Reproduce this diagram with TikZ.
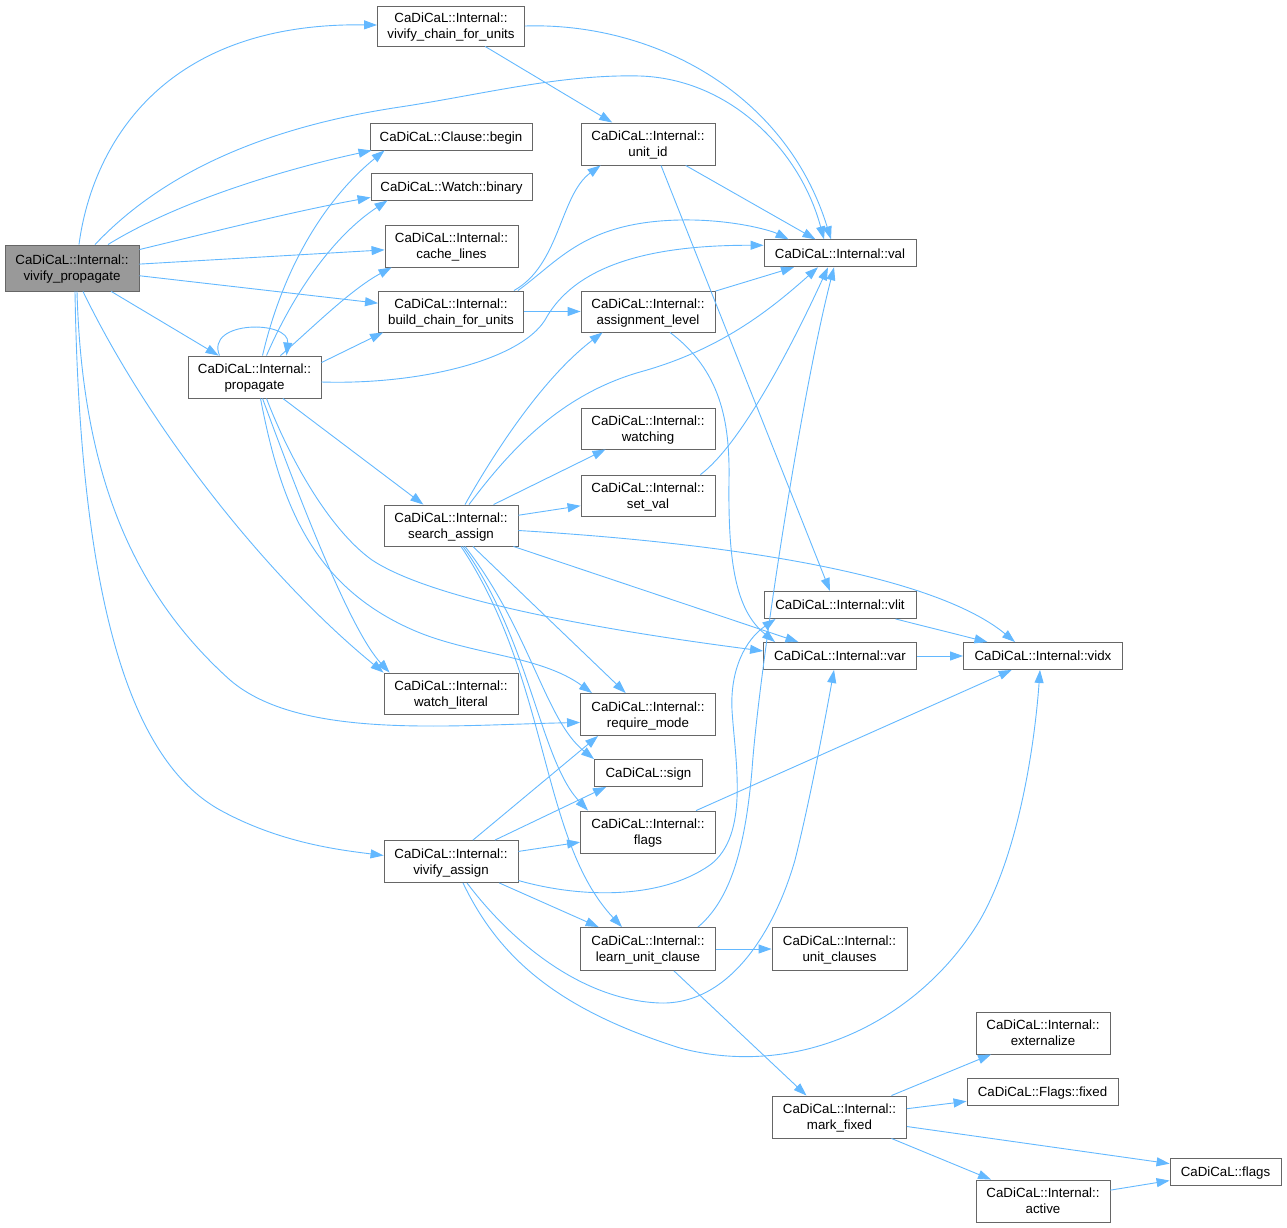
\documentclass[tikz,border=0pt]{standalone}
\usepackage{fontspec}
\setmainfont{Liberation Sans}
\usetikzlibrary{arrows.meta,calc}
\definecolor{edgeblue}{HTML}{63B8FF}
\definecolor{boxgray}{HTML}{666666}
\definecolor{rootfill}{HTML}{999999}
\begin{document}
\begin{tikzpicture}[x=1pt,y=-1pt,
  box/.style={draw=boxgray, fill=white, line width=0.9pt, inner sep=0pt, align=center,
    font=\fontsize{13.3}{16}\selectfont, minimum height=42pt, text depth=-4pt},
  one/.style={minimum height=27pt, text depth=0pt},
  e/.style={draw=edgeblue, line width=0.9pt, -{Triangle[length=13pt,width=9pt]}}]
\useasboundingbox (0,0) rectangle (1287,1228);
% nodes
\node[box, fill=rootfill, minimum width=134pt, minimum height=46pt] (vp) at (72,268) {CaDiCaL::Internal::\\vivify\_propagate};
\node[box, minimum width=147pt, minimum height=40pt] (vcu) at (451,26) {CaDiCaL::Internal::\\vivify\_chain\_for\_units};
\node[box, one, minimum width=162pt] (cbeg) at (451,136.5) {CaDiCaL::Clause::begin};
\node[box, one, minimum width=161pt] (wbin) at (451.5,186.5) {CaDiCaL::Watch::binary};
\node[box, minimum width=133pt] (cache) at (451.5,246) {CaDiCaL::Internal::\\cache\_lines};
\node[box, minimum width=145pt, minimum height=41pt] (bcu) at (451,311.5) {CaDiCaL::Internal::\\build\_chain\_for\_units};
\node[box, minimum width=133pt] (prop) at (254.5,377) {CaDiCaL::Internal::\\propagate};
\node[box, minimum width=134pt, minimum height=41pt] (sa) at (451,525.5) {CaDiCaL::Internal::\\search\_assign};
\node[box, minimum width=134pt, minimum height=41pt] (wl) at (451,693.5) {CaDiCaL::Internal::\\watch\_literal};
\node[box, minimum width=134pt] (va) at (451,861.5) {CaDiCaL::Internal::\\vivify\_assign};
\node[box, minimum width=134pt] (uid) at (648,144) {CaDiCaL::Internal::\\unit\_id};
\node[box, one, minimum width=152pt] (val) at (840,253.3) {CaDiCaL::Internal::val};
\node[box, minimum width=134pt, minimum height=41pt] (al) at (648,311.5) {CaDiCaL::Internal::\\assignment\_level};
\node[box, minimum width=134pt, minimum height=41pt] (watching) at (648,428.5) {CaDiCaL::Internal::\\watching};
\node[box, minimum width=134pt, minimum height=41pt] (setval) at (648,495.5) {CaDiCaL::Internal::\\set\_val};
\node[box, one, minimum width=152pt] (vlit) at (840,605) {CaDiCaL::Internal::vlit};
\node[box, one, minimum width=153pt] (var) at (840,656) {CaDiCaL::Internal::var};
\node[box, one, minimum width=159pt] (vidx) at (1043,656) {CaDiCaL::Internal::vidx};
\node[box, minimum width=135pt] (rm) at (648,714.5) {CaDiCaL::Internal::\\require\_mode};
\node[box, one, minimum width=108pt] (sign) at (648.5,773) {CaDiCaL::sign};
\node[box, minimum width=135pt] (iflags) at (648,832) {CaDiCaL::Internal::\\flags};
\node[box, minimum width=135pt, minimum height=43pt] (luc) at (648,949) {CaDiCaL::Internal::\\learn\_unit\_clause};
\node[box, minimum width=135pt, minimum height=43pt] (uc) at (839.5,949) {CaDiCaL::Internal::\\unit\_clauses};
\node[box, minimum width=134pt] (ext) at (1043,1033) {CaDiCaL::Internal::\\externalize};
\node[box, one, minimum width=151pt] (ffixed) at (1042.5,1092) {CaDiCaL::Flags::fixed};
\node[box, minimum width=134pt] (mf) at (839.5,1117) {CaDiCaL::Internal::\\mark\_fixed};
\node[box, one, minimum width=111pt] (cflags) at (1225.5,1171.5) {CaDiCaL::flags};
\node[box, minimum width=134pt] (active) at (1043,1201) {CaDiCaL::Internal::\\active};
% edges from vivify_propagate
\draw[e] ($(vp.north)+(7,0)$) .. controls (90,160) and (150,22) .. (vcu);
\draw[e] ($(vp.north)+(23,0)$) .. controls (170,165) and (280,125) .. (400,107) .. controls (480,95) and (560,74) .. (640,76) .. controls (730,79) and (800,150) .. ($(val.north)+(-16,0)$);
\draw[e] ($(vp.north)+(36,0)$) .. controls (180,200) and (290,168) .. ($(cbeg.south west)+(2,0)$);
\draw[e] ($(vp.north east)+(0,5)$) .. controls (220,230) and (300,210) .. ($(wbin.south west)+(0,-3)$);
\draw[e] (vp) -- (cache);
\draw[e] (vp) -- (bcu);
\draw[e] (vp) -- (prop);
\draw[e] ($(vp.south)+(11,0)$) .. controls (150,430) and (270,580) .. (wl.north west);
\draw[e] ($(vp.south)+(5,0)$) .. controls (82,470) and (130,590) .. (230,680) .. controls (300,740) and (450,725) .. ($(rm.west)+(0,8)$);
\draw[e] ($(vp.south)+(3,0)$) .. controls (80,600) and (130,760) .. (220,810) .. controls (280,843) and (340,850) .. ($(va.west)+(0,-6)$);
% vivify_chain_for_units
\draw[e] (vcu) -- (uid);
\draw[e] (vcu.east) .. controls (650,22) and (785,90) .. ($(val.north)+(-9,0)$);
% build_chain_for_units
\draw[e] ($(bcu.north east)+(-10,0)$) .. controls (560,265) and (560,195) .. ($(uid.south west)+(20,0)$);
\draw[e] ($(bcu.north east)+(-6,0)$) .. controls (560,260) and (585,222) .. (680,220) .. controls (730,219) and (770,230) .. ($(val.north west)+(25,0)$);
\draw[e] (bcu) -- (al);
% propagate
\draw[e] ($(prop.north)+(-35,0)$) .. controls (205,320) and (290,320) .. ($(prop.north)+(32,0)$);
\draw[e] ($(prop.north)+(8,0)$) .. controls (285,260) and (330,195) .. ($(cbeg.south west)+(15,0)$);
\draw[e] ($(prop.north)+(12,0)$) .. controls (295,290) and (335,235) .. ($(wbin.south west)+(17,0)$);
\draw[e] ($(prop.north)+(26,0)$) .. controls (310,330) and (350,290) .. ($(cache.south west)+(7,0)$);
\draw[e] ($(prop.north east)+(0,7)$) -- ($(bcu.south west)+(5,0)$);
\draw[e] ($(prop.east)+(0,5)$) .. controls (420,385) and (520,360) .. (545,320) .. controls (575,265) and (650,245) .. ($(val.west)+(0,-8)$);
\draw[e] (prop) -- (sa);
\draw[e] ($(prop.south)+(8,0)$) .. controls (300,500) and (350,630) .. ($(wl.north west)+(6,0)$);
\draw[e] ($(prop.south)+(12,0)$) .. controls (290,460) and (330,530) .. (372,560) .. controls (440,605) and (640,635) .. ($(var.west)+(0,-5)$);
\draw[e] ($(prop.south)+(6,0)$) .. controls (280,500) and (310,585) .. (413,630) .. controls (470,655) and (540,655) .. ($(rm.north west)+(12,0)$);
% search_assign
\draw[e] ($(sa.north)+(14,0)$) .. controls (490,460) and (540,380) .. ($(al.south west)+(22,0)$);
\draw[e] ($(sa.north)+(18,0)$) .. controls (510,450) and (560,395) .. (640,372) .. controls (720,350) and (770,310) .. ($(val.south)+(-22,0)$);
\draw[e] (sa) -- (watching);
\draw[e] (sa) -- (setval);
\draw[e] ($(sa.east)+(0,5)$) .. controls (760,545) and (940,580) .. ($(vidx.north)+(-28,0)$);
\draw[e] (sa) -- (var);
\draw[e] (sa) -- (rm);
\draw[e] ($(sa.south)+(14,0)$) .. controls (530,630) and (545,720) .. (sign.north west);
\draw[e] ($(sa.south)+(12,0)$) .. controls (530,640) and (540,760) .. ($(iflags.north west)+(8,0)$);
\draw[e] ($(sa.south)+(10,0)$) .. controls (550,680) and (540,840) .. ($(luc.north)+(-26,0)$);
% vivify_assign
\draw[e] ($(va.north)+(22,0)$) -- ($(rm.south west)+(18,0)$);
\draw[e] ($(va.north)+(44,0)$) -- ($(sign.south west)+(12,0)$);
\draw[e] (va) -- (iflags);
\draw[e] (va) -- (luc);
\draw[e] ($(va.east)+(0,19)$) .. controls (580,898) and (660,900) .. (710,865) .. controls (750,835) and (735,760) .. (732,710) .. controls (730,670) and (745,640) .. ($(vlit.south west)+(12,0)$);
\draw[e] ($(va.south)+(16,0)$) .. controls (510,940) and (580,1000) .. (660,1003) .. controls (730,1005) and (775,930) .. (795,860) .. controls (810,800) and (825,720) .. ($(var.south)+(-6,0)$);
\draw[e] ($(va.south)+(12,0)$) .. controls (500,960) and (560,1010) .. (680,1048) .. controls (800,1080) and (920,1020) .. (980,920) .. controls (1020,850) and (1035,740) .. ($(vidx.south)+(-3,0)$);
% learn_unit_clause
\draw[e] ($(luc.north east)+(-18,0)$) .. controls (730,900) and (745,850) .. (752,770) .. controls (758,680) and (800,400) .. ($(val.south)+(-6,0)$);
\draw[e] (luc) -- (uc);
\draw[e] ($(luc.south)+(26,0)$) -- ($(mf.north)+(-33,0)$);
% others
\draw[e] (uid) -- (val);
\draw[e] ($(uid.south)+(13,0)$) -- ($(vlit.north)+(-10,0)$);
\draw[e] (al) -- (val);
\draw[e] ($(al.south)+(22,0)$) .. controls (720,370) and (730,420) .. (729,480) .. controls (728,560) and (735,610) .. ($(var.north west)+(12,0)$);
\draw[e] ($(setval.north east)+(-15,0)$) .. controls (740,445) and (790,350) .. ($(val.south)+(-12,0)$);
\draw[e] (iflags) -- (vidx);
\draw[e] (var) -- (vidx);
\draw[e] (vlit) -- (vidx);
\draw[e] (mf) -- (ext);
\draw[e] (mf) -- (ffixed);
\draw[e] (mf) -- (cflags);
\draw[e] (mf) -- (active);
\draw[e] (active) -- (cflags);
\end{tikzpicture}
\end{document}
